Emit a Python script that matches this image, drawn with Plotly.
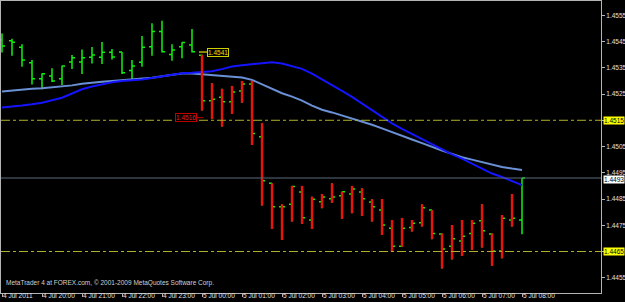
import plotly.graph_objects as go

# ---------------- data (EURUSD M15) ----------------
bar_index = list(range(53))

opens = [1.45456, 1.45453, 1.45428, 1.45369, 1.45308, 1.45319, 1.45308, 1.45372, 1.45372, 1.45390,
         1.45390, 1.45409, 1.45410, 1.45340, 1.45371, 1.45430, 1.45488, 1.45401, 1.45430, 1.45437,
         1.45398, 1.45224, 1.45238, 1.45221, 1.45262, 1.45288, 1.45087, 1.44910, 1.44821, 1.44830,
         1.44877, 1.44770, 1.44840, 1.44851, 1.44862, 1.44869, 1.44877, 1.44839, 1.44808, 1.44739,
         1.44670, 1.44741, 1.44760, 1.44808, 1.44717, 1.44670, 1.44690, 1.44719, 1.44767, 1.44717,
         1.44652, 1.44770, 1.44770]
highs = [1.45481, 1.45461, 1.45440, 1.45380, 1.45329, 1.45348, 1.45358, 1.45399, 1.45420, 1.45429,
         1.45448, 1.45422, 1.45410, 1.45380, 1.45471, 1.45520, 1.45529, 1.45440, 1.45447, 1.45498,
         1.45400, 1.45291, 1.45270, 1.45281, 1.45300, 1.45300, 1.45139, 1.44910, 1.44830, 1.44900,
         1.44900, 1.44859, 1.44869, 1.44910, 1.44878, 1.44900, 1.44891, 1.44849, 1.44850, 1.44770,
         1.44778, 1.44770, 1.44830, 1.44808, 1.44719, 1.44751, 1.44770, 1.44770, 1.44830, 1.44719,
         1.44789, 1.44869, 1.44930]
lows = [1.45408, 1.45396, 1.45354, 1.45286, 1.45268, 1.45296, 1.45284, 1.45345, 1.45326, 1.45366,
        1.45364, 1.45382, 1.45326, 1.45304, 1.45354, 1.45396, 1.45408, 1.45377, 1.45386, 1.45408,
        1.45187, 1.45155, 1.45126, 1.45174, 1.45217, 1.45056, 1.44825, 1.44736, 1.44694, 1.44764,
        1.44755, 1.44736, 1.44815, 1.44836, 1.44774, 1.44796, 1.44785, 1.44764, 1.44713, 1.44648,
        1.44668, 1.44726, 1.44745, 1.44697, 1.44585, 1.44620, 1.44633, 1.44656, 1.44665, 1.44595,
        1.44624, 1.44745, 1.44716]
closes = [1.45433, 1.45447, 1.45380, 1.45308, 1.45327, 1.45300, 1.45357, 1.45388, 1.45388, 1.45399,
          1.45409, 1.45391, 1.45331, 1.45357, 1.45428, 1.45488, 1.45411, 1.45418, 1.45446, 1.45411,
          1.45224, 1.45230, 1.45221, 1.45258, 1.45288, 1.45100, 1.44920, 1.44821, 1.44821, 1.44898,
          1.44779, 1.44849, 1.44858, 1.44858, 1.44878, 1.44888, 1.44851, 1.44821, 1.44751, 1.44670,
          1.44739, 1.44758, 1.44817, 1.44719, 1.44660, 1.44699, 1.44708, 1.44758, 1.44729, 1.44652,
          1.44777, 1.44777, 1.44930]

ma_fast = [1.45199, 1.45202, 1.45206, 1.45211, 1.45217, 1.45226, 1.45236, 1.45252, 1.45268, 1.45279,
           1.45288, 1.45295, 1.45300, 1.45302, 1.45305, 1.45311, 1.45317, 1.45323, 1.45329, 1.45331,
           1.45334, 1.45337, 1.45345, 1.45355, 1.45360, 1.45364, 1.45369, 1.45371, 1.45366, 1.45356,
           1.45346, 1.45328, 1.45307, 1.45284, 1.45262, 1.45239, 1.45214, 1.45189, 1.45163, 1.45138,
           1.45117, 1.45097, 1.45077, 1.45058, 1.45037, 1.45020, 1.45004, 1.44985, 1.44966, 1.44947,
           1.44934, 1.44919, 1.44903]
ma_slow = [1.45260, 1.45264, 1.45268, 1.45270, 1.45272, 1.45275, 1.45278, 1.45283, 1.45289, 1.45294,
           1.45297, 1.45300, 1.45303, 1.45305, 1.45307, 1.45312, 1.45318, 1.45324, 1.45328, 1.45328,
           1.45325, 1.45322, 1.45319, 1.45316, 1.45313, 1.45304, 1.45287, 1.45268, 1.45253, 1.45240,
           1.45225, 1.45206, 1.45190, 1.45180, 1.45168, 1.45158, 1.45146, 1.45133, 1.45119, 1.45106,
           1.45090, 1.45077, 1.45063, 1.45048, 1.45035, 1.45022, 1.45009, 1.45000, 1.44990, 1.44981,
           1.44972, 1.44966, 1.44961]

time_tick_bars = [0, 4, 8, 12, 16, 20, 24, 28, 32, 36, 40, 44, 48, 52]
time_tick_labels = ["4 Jul 2011", "4 Jul 20:00", "4 Jul 21:00", "4 Jul 22:00", "4 Jul 23:00",
                    "5 Jul 00:00", "5 Jul 01:00", "5 Jul 02:00", "5 Jul 03:00", "5 Jul 04:00",
                    "5 Jul 05:00", "5 Jul 06:00", "5 Jul 07:00", "5 Jul 08:00"]
price_ticks = [1.4455, 1.4465, 1.4475, 1.4485, 1.4495, 1.4505, 1.4515, 1.4525, 1.4535, 1.4545, 1.4555]
level_lines = [1.4515, 1.4465]
bid_price = 1.4493
label_high = {"bar": 21.55, "price": 1.4541, "text": "1.4541"}
label_low = {"bar": 18.4, "price": 1.4516, "text": "1.4516"}
copyright_text = "MetaTrader 4 at FOREX.com, \u00a9 2001-2009 MetaQuotes Software Corp."

# ---------------- figure ----------------
FONT = "Liberation Sans"
FS = 6.5
GREEN = "#10f010"
RED = "#e8140a"

fig = go.Figure()

# moving averages
fig.add_trace(go.Scatter(x=bar_index, y=ma_slow, mode="lines",
                         line=dict(color="#6a90d6", width=2), hoverinfo="skip"))
fig.add_trace(go.Scatter(x=bar_index, y=ma_fast, mode="lines",
                         line=dict(color="#1414ff", width=2), hoverinfo="skip"))

# OHLC bars
fig.add_trace(go.Ohlc(x=bar_index, open=opens, high=highs, low=lows, close=closes,
                      increasing=dict(line=dict(color=GREEN, width=1.5)),
                      decreasing=dict(line=dict(color=GREEN, width=1.5)),
                      tickwidth=0.3, hoverinfo="skip"))

# red highlight of bars closing below the fast MA
rx, ry = [], []
for i in bar_index:
    if closes[i] < ma_fast[i]:
        rx += [i, i, None]
        ry += [lows[i], highs[i], None]
fig.add_trace(go.Scatter(x=rx, y=ry, mode="lines", line=dict(color=RED, width=2.4),
                         hoverinfo="skip"))

shapes = []
for lv in level_lines:
    shapes.append(dict(type="line", xref="paper", x0=0, x1=1, yref="y", y0=lv, y1=lv,
                       line=dict(color="#b0b02a", width=1, dash="dashdot")))
shapes.append(dict(type="line", xref="paper", x0=0, x1=1, yref="y", y0=bid_price, y1=bid_price,
                   line=dict(color="#5c6c7c", width=1)))
# price label connectors
shapes.append(dict(type="line", xref="x", x0=label_high["bar"] - 1.85, x1=label_high["bar"] - 0.95,
                   yref="y", y0=label_high["price"], y1=label_high["price"],
                   line=dict(color="#8c8c00", width=2)))
shapes.append(dict(type="line", xref="x", x0=label_low["bar"] + 1.0, x1=label_low["bar"] + 1.7,
                   yref="y", y0=label_low["price"], y1=label_low["price"],
                   line=dict(color="#c00000", width=1)))

annotations = [
    dict(x=label_high["bar"], y=label_high["price"], xref="x", yref="y", text=label_high["text"],
         showarrow=False, font=dict(family=FONT, size=FS, color="#e0e000"),
         bgcolor="#000000", bordercolor="#d0d000", borderwidth=1, borderpad=0),
    dict(x=label_low["bar"], y=label_low["price"], xref="x", yref="y", text=label_low["text"],
         showarrow=False, font=dict(family=FONT, size=FS, color="#e02020"),
         bgcolor="#000000", bordercolor="#c00000", borderwidth=1, borderpad=0),
    dict(x=0, y=0, xref="paper", yref="paper", xanchor="left", yanchor="bottom",
         xshift=3, yshift=4, text=copyright_text, showarrow=False,
         font=dict(family=FONT, size=FS, color="#d0d0d0")),
]
for lv in level_lines:
    annotations.append(dict(x=1, y=lv, xref="paper", yref="y", xanchor="left", yanchor="middle",
                            xshift=2, text=f"{lv:.4f}", showarrow=False,
                            font=dict(family=FONT, size=FS, color="#000000"),
                            bgcolor="#ffff00", borderpad=0))
annotations.append(dict(x=1, y=bid_price, xref="paper", yref="y", xanchor="left", yanchor="top",
                        xshift=2, yshift=3, text=f"{bid_price:.4f}", showarrow=False,
                        font=dict(family=FONT, size=FS, color="#000000"),
                        bgcolor="#ffffff", borderpad=0))

ytext = ["" if p in level_lines else f"{p:.4f}" for p in price_ticks]

fig.update_layout(
    width=625, height=302,
    margin=dict(l=1, r=24, t=1, b=9, autoexpand=False),
    paper_bgcolor="#000000", plot_bgcolor="#000000",
    showlegend=False,
    shapes=shapes, annotations=annotations,
    xaxis=dict(range=[-0.1, 59.9], showgrid=False, zeroline=False,
               rangeslider=dict(visible=False), automargin=False, tickangle=0,
               showline=True, mirror=True, linecolor="#b4b4b4", linewidth=1,
               ticks="outside", ticklen=3, tickcolor="#b4b4b4", tickwidth=1,
               tickvals=time_tick_bars, ticktext=time_tick_labels,
               ticklabelposition="outside right", ticklabelstandoff=-4,
               tickfont=dict(family=FONT, size=FS, color="#e0e0e0")),
    yaxis=dict(range=[1.444919, 1.456045], side="right", showgrid=False, zeroline=False,
               automargin=False,
               showline=True, mirror=True, linecolor="#b4b4b4", linewidth=1,
               ticks="outside", ticklen=3, tickcolor="#b4b4b4", tickwidth=1,
               tickvals=price_ticks, ticktext=ytext,
               tickfont=dict(family=FONT, size=FS, color="#e0e0e0")),
)

fig.write_html("out.html")
